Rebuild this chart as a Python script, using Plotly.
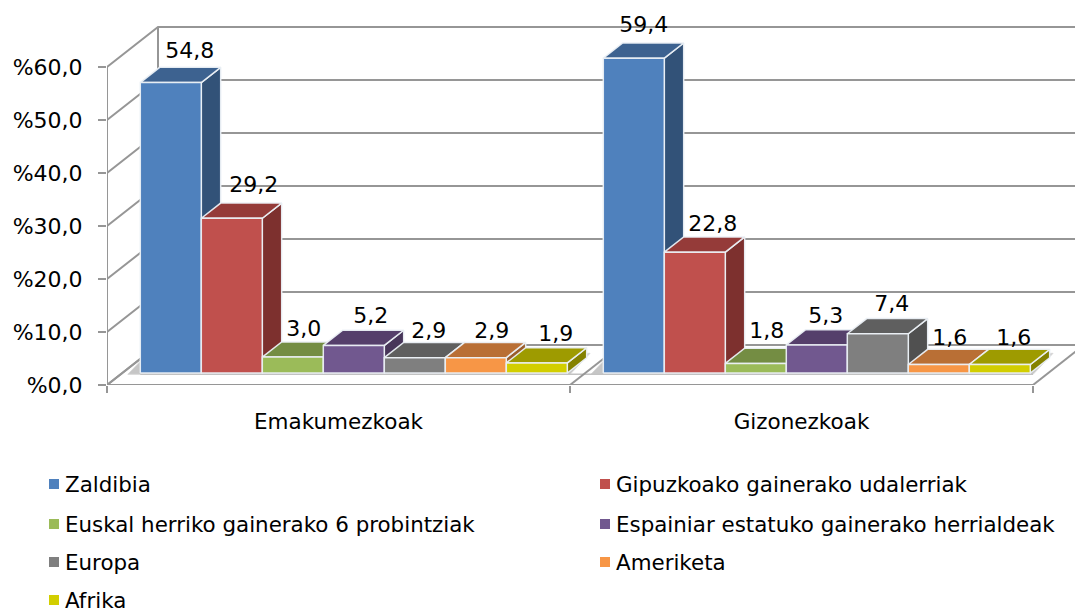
import plotly.graph_objects as go

categories = ["Emakumezkoak", "Gizonezkoak"]
series_names = ["Zaldibia", "Gipuzkoako gainerako udalerriak", "Euskal herriko gainerako 6 probintziak",
                "Espainiar estatuko gainerako herrialdeak", "Europa", "Ameriketa", "Afrika"]
emakumezkoak = [54.8, 29.2, 3.0, 5.2, 2.9, 2.9, 1.9]
gizonezkoak = [59.4, 22.8, 1.8, 5.3, 7.4, 1.6, 1.6]
value_labels = [["54,8", "29,2", "3,0", "5,2", "2,9", "2,9", "1,9"],
                ["59,4", "22,8", "1,8", "5,3", "7,4", "1,6", "1,6"]]
y_ticks = [0, 10, 20, 30, 40, 50, 60]
y_tick_labels = ["%0,0", "%10,0", "%20,0", "%30,0", "%40,0", "%50,0", "%60,0"]

front_colors = ["#4F81BD", "#C0504D", "#9BBB59", "#71588F", "#7F7F7F", "#F79646", "#D2CE00"]
top_colors = ["#3D6290", "#953B39", "#748D43", "#553F6B", "#5F5F5F", "#B96F35", "#9E9B00"]
side_colors = ["#325278", "#7D302E", "#617638", "#473559", "#505050", "#9A5D2C", "#848100"]

PX_X = 463.0   # pixels per category
PX_Y = 5.3     # pixels per percent
DX = 51 / PX_X  # wall depth in axis units
DY = 40 / PX_Y
BAR_D0, BAR_D1 = 0.30, 0.68
BAR_W = 61 / PX_X
GAP = (1 - 7 * BAR_W) / 2
XMAX = (1075 - 107) / PX_X
YMAX = 385 / PX_Y
GRID = "#969696"

# label nudges in pixels from the bar's front-top centre
label_dx = [[19, 22, 11, 17, 14, 16, 19], [10, 18, 11, 9, 14, 11, 14]]
label_dy = [[30, 32, 27, 28, 25, 25, 27], [32, 27, 31, 27, 28, 25, 25]]

def proj(x, v, d):
    return x + d * DX, v + d * DY

fig = go.Figure()

def line(xs, ys, color=GRID, width=2):
    fig.add_trace(go.Scatter(x=xs, y=ys, mode="lines", line=dict(color=color, width=width),
                             showlegend=False, hoverinfo="skip", cliponaxis=False))

def poly(pts, fill, edge="rgba(235,240,245,0.95)", width=1.5):
    xs = [p[0] for p in pts] + [pts[0][0]]
    ys = [p[1] for p in pts] + [pts[0][1]]
    fig.add_trace(go.Scatter(x=xs, y=ys, mode="lines", fill="toself", fillcolor=fill,
                             line=dict(color=edge, width=width), showlegend=False, hoverinfo="skip"))

# walls
for v in y_ticks:
    x0, y0 = proj(0, v, 0)
    x1, y1 = proj(0, v, 1)
    line([x0, x1, XMAX], [y0, y1, y1])
line([DX, DX], [DY, 60 + DY])

# floor shadow below each group of bars
low = proj(0, 0, BAR_D0)[1] - 0.25
high = low + 21 / PX_Y
shift = 20 / PX_X
for g in range(2):
    xa = g + 0.012 + BAR_D0 * DX
    xb = g + 1 - 0.033 + BAR_D0 * DX
    poly([(xa, low), (xb, low), (xb + shift, high), (xa + shift, high)], "#c6c6c6", edge="#d8d8d8", width=1)
line([GAP + BAR_D0 * DX, 2 + BAR_D0 * DX - 0.033], [low, low], color="#c2c2c2", width=1.5)

# axes and floor grid
line([0, 0], [0, 60])
line([0, 2], [0, 0])
for c in [1, 2]:
    x0, y0 = proj(c, 0, 0)
    x1, y1 = proj(c, 0, 1)
    line([x0, x1], [y0, y1])
line([0, DX], [0, DY])

# bars, painted left to right
for g, vals in enumerate([emakumezkoak, gizonezkoak]):
    for i, v in enumerate(vals):
        xl = g + GAP + i * BAR_W
        xr = xl + BAR_W
        fl = proj(xl, 0, BAR_D0); fr = proj(xr, 0, BAR_D0)
        tl = proj(xl, v, BAR_D0); tr = proj(xr, v, BAR_D0)
        bl2 = proj(xl, v, BAR_D1); br2 = proj(xr, v, BAR_D1)
        br0 = proj(xr, 0, BAR_D1)
        poly([fr, tr, br2, br0], side_colors[i])
        poly([tl, tr, br2, bl2], top_colors[i])
        poly([fl, fr, tr, tl], front_colors[i])

# value labels
for g, vals in enumerate([emakumezkoak, gizonezkoak]):
    lx, ly = [], []
    for i, v in enumerate(vals):
        xc, yc = proj(g + GAP + (i + 0.5) * BAR_W, v, BAR_D0)
        lx.append(xc + label_dx[g][i] / PX_X)
        ly.append(yc + label_dy[g][i] / PX_Y)
    fig.add_trace(go.Scatter(x=lx, y=ly, mode="text", text=value_labels[g], textposition="middle center",
                             textfont=dict(family="DejaVu Sans", size=22, color="#000000"),
                             showlegend=False, hoverinfo="skip", cliponaxis=False))

# legend: swatch and label placed in paper coordinates
legend_pos = [(65, 484), (616, 484), (65, 524), (616, 524), (65, 562), (616, 562), (65, 600)]
PLOT_W, PLOT_H = 968.0, 385.0
def paper(px, py):
    return (px - 107) / PLOT_W, (385 - py) / PLOT_H
shapes, annotations = [], []
for i, name in enumerate(series_names):
    px, py = legend_pos[i]
    x0, y0 = paper(px - 16, py + 5)
    x1, y1 = paper(px - 6, py - 5)
    shapes.append(dict(type="rect", xref="paper", yref="paper", x0=x0, y0=y0, x1=x1, y1=y1,
                       fillcolor=front_colors[i], line=dict(width=0)))
    ax, ay = paper(px, py)
    annotations.append(dict(text=name, xref="paper", yref="paper", x=ax, y=ay, xanchor="left", yanchor="middle",
                            showarrow=False, xshift=-2, font=dict(family="DejaVu Sans", size=21.4, color="#000000")))

fig.update_layout(
    width=1075, height=612, autosize=False, showlegend=False,
    margin=dict(l=107, r=0, t=0, b=227, pad=0, autoexpand=False),
    paper_bgcolor="#FFFFFF", plot_bgcolor="#FFFFFF",
    font=dict(family="DejaVu Sans", size=21, color="#000000"),
    shapes=shapes, annotations=annotations,
    xaxis=dict(range=[0, XMAX], tickmode="array", tickvals=[0.5, 1.5], ticktext=categories,
               showgrid=False, zeroline=False, showline=False, ticks="", ticklabelstandoff=21, tickangle=0,
               tickfont=dict(family="DejaVu Sans", size=21.5),
               minor=dict(tick0=0, dtick=1, ticks="outside", ticklen=7, tickwidth=2, tickcolor=GRID, showgrid=False)),
    yaxis=dict(range=[0, YMAX], tickmode="array", tickvals=y_ticks, ticktext=y_tick_labels,
               showgrid=False, zeroline=False, showline=False, ticks="outside", ticklen=8, tickwidth=2,
               tickcolor=GRID, ticklabelstandoff=11, tickfont=dict(family="DejaVu Sans", size=22)),
)
fig.write_html("out.html", config={"displayModeBar": False},
               post_script="document.body.style.margin='0';document.documentElement.style.overflow='hidden';")
